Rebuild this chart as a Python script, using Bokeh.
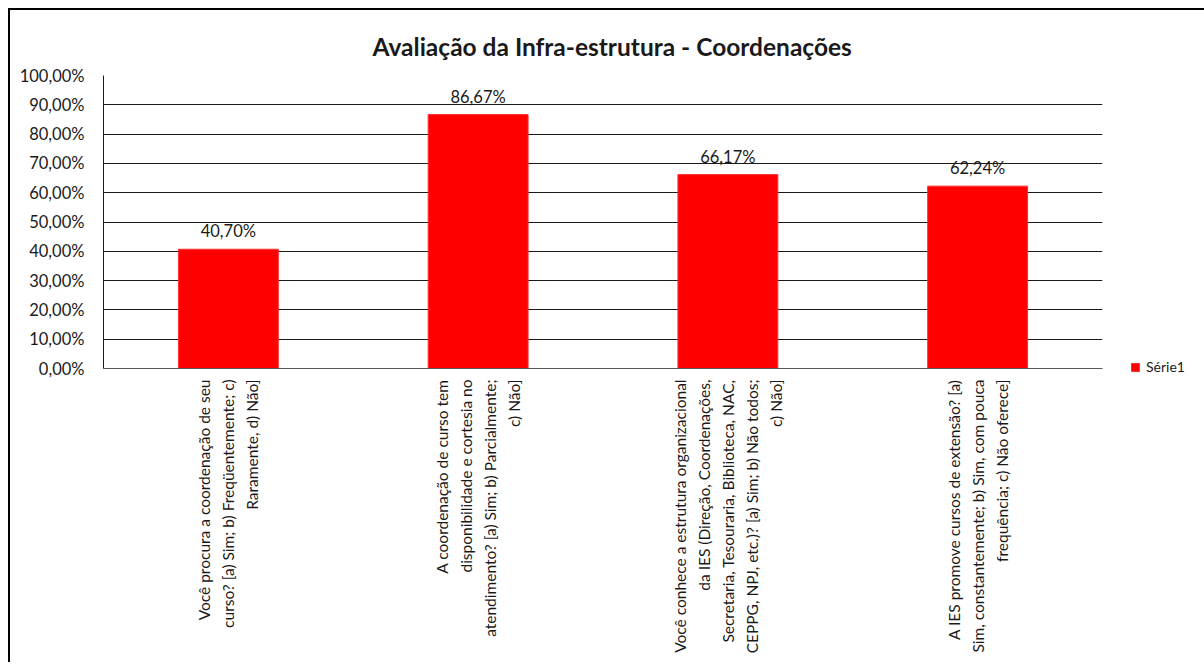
import math
from bokeh.plotting import figure
from bokeh.models import (ColumnDataSource, FactorRange, Range1d, FixedTicker,
                          LabelSet, Legend, LegendItem, Title)
from bokeh.core.properties import value
from bokeh.embed import file_html
from bokeh.resources import INLINE

# ---- data ----
categories = [
    "Você procura a coordenação de seu\ncurso? [a) Sim; b) Freqüentemente; c)\nRaramente, d) Não]",
    "A coordenação de curso tem\ndisponibilidade e cortesia no\natendimento? [a) Sim; b) Parcialmente;\nc) Não]",
    "Você conhece a estrutura organizacional\nda IES (Direção, Coordenações,\nSecretaria, Tesouraria, Biblioteca, NAC,\nCEPPG, NPJ, etc.)? [a) Sim; b) Não todos;\nc) Não]",
    "A IES promove cursos de extensão? [a)\nSim, constantemente; b) Sim, com pouca\nfrequência; c) Não oferece]",
]
values = [40.70, 86.67, 66.17, 62.24]
value_labels = ["40,70%", "86,67%", "66,17%", "62,24%"]
tick_values = [0, 10, 20, 30, 40, 50, 60, 70, 80, 90, 100]
tick_labels = ["0,00%", "10,00%", "20,00%", "30,00%", "40,00%", "50,00%",
               "60,00%", "70,00%", "80,00%", "90,00%", "100,00%"]
series_name = "Série1"
title_text = "Avaliação da Infra-estrutura - Coordenações"

FONT = "Lato"
TXT = "#1a1a1a"

src = ColumnDataSource(dict(cat=categories, val=values, lab=value_labels))

p = figure(frame_width=999, frame_height=293, output_backend="svg",
           toolbar_location=None,
           x_range=FactorRange(factors=categories, range_padding=0),
           y_range=Range1d(0, 100),
           min_border_left=93, min_border_right=94, min_border_top=65,
           min_border_bottom=294)
p.styles = {"border-left": "2px solid #000000", "border-top": "2px solid #000000",
            "margin-left": "8px", "margin-top": "8px"}

p.title = Title(text=title_text, align="left", vertical_align="middle",
                text_font=FONT, text_font_size="24.5px", text_font_style="bold",
                text_color=TXT, offset=269, standoff=28)

bars = p.vbar(x="cat", top="val", width=0.4, source=src,
              fill_color="#FF0000", line_color="#FF3030", line_width=1)

p.add_layout(LabelSet(x="cat", y="val", text="lab", source=src, y_offset=12,
                      text_align="center", text_baseline="alphabetic",
                      text_font=value(FONT), text_font_size="16.5px",
                      text_color=TXT))

# axes
p.yaxis.ticker = FixedTicker(ticks=tick_values)
p.yaxis.major_label_overrides = {t: l for t, l in zip(tick_values, tick_labels)}
p.yaxis.major_tick_out = 0
p.yaxis.major_tick_in = 0
p.yaxis.minor_tick_out = 0
p.yaxis.minor_tick_in = 0
p.yaxis.major_label_standoff = 19
p.yaxis.major_label_text_font = FONT
p.yaxis.major_label_text_font_size = "16.5px"
p.yaxis.major_label_text_color = TXT
p.yaxis.axis_line_color = "#1a1a1a"

p.xaxis.major_tick_out = 0
p.xaxis.major_tick_in = 0
p.xaxis.major_label_orientation = math.pi / 2
p.xaxis.major_label_standoff = 11
p.xaxis.major_label_text_font = FONT
p.xaxis.major_label_text_font_size = "15.5px"
p.xaxis.major_label_text_line_height = 1.33
p.xaxis.major_label_text_color = TXT
p.xaxis.axis_line_color = "#595959"

p.xgrid.grid_line_color = None
p.ygrid.grid_line_color = "#1a1a1a"
p.ygrid.grid_line_width = 1
p.outline_line_color = None

legend = Legend(items=[LegendItem(label=series_name, renderers=[bars])],
                location=(28, -7), orientation="vertical",
                glyph_width=10, glyph_height=10, label_standoff=6,
                label_text_font=FONT, label_text_font_size="14px",
                label_text_color=TXT, padding=0, margin=0,
                border_line_color=None, background_fill_alpha=0)
p.add_layout(legend, "right")

open("out.html", "w").write(file_html(p, INLINE))
